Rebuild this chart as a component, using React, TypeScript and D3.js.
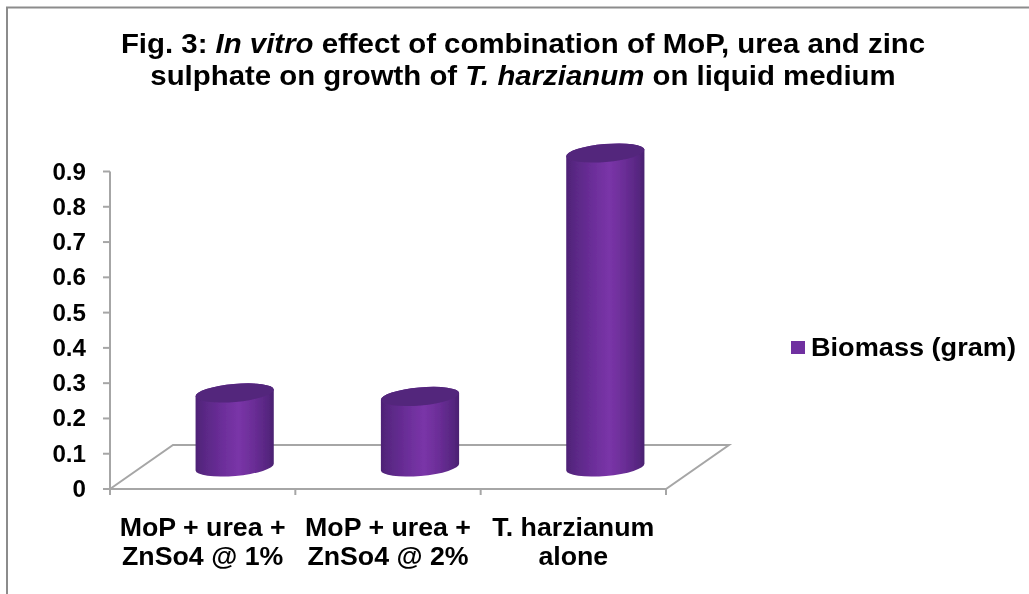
import React from "react";
import * as d3 from "d3";

const categories = [["MoP + urea +", "ZnSo4 @ 1%"], ["MoP + urea +", "ZnSo4 @ 2%"], ["T. harzianum", "alone"]];
const values = [0.21, 0.2, 0.89];
const yTicks = [0, 0.1, 0.2, 0.3, 0.4, 0.5, 0.6, 0.7, 0.8, 0.9];
const seriesName = "Biomass (gram)";

const W = 1029, H = 594;
const FONT = "'Liberation Sans', Arial, sans-serif";
const GREY = "#a6a6a6";

const y = d3.scaleLinear().domain([0, 0.9]).range([489, 171.5]);
const x = d3.scaleBand<number>().domain([0, 1, 2]).range([110, 666]).padding(0);
const depthX = 63, depthY = 44;
const cylW = 78.5, ry = 9, tilt = -5;

export default function App() {
  const floor = d3.line()([
    [110, y(0)], [110 + depthX, y(0) - depthY], [666 + depthX, y(0) - depthY], [666, y(0)], [110, y(0)],
  ]) as string;
  return (
    <svg width={W} height={H} style={{ position: "absolute", left: 0, top: 0, background: "#fff" }}>
      <defs>
        <linearGradient id="cyl" x1="0" x2="1" y1="0" y2="0">
          <stop offset="0" stopColor="#4e2276" />
          <stop offset="0.12" stopColor="#5a2885" />
          <stop offset="0.35" stopColor="#6c2e9a" />
          <stop offset="0.55" stopColor="#7a35a8" />
          <stop offset="0.75" stopColor="#6a2d96" />
          <stop offset="0.93" stopColor="#55267f" />
          <stop offset="1" stopColor="#4a2070" />
        </linearGradient>
        <filter id="soft" x="-5%" y="-5%" width="110%" height="110%">
          <feGaussianBlur stdDeviation="0.45" />
        </filter>
      </defs>
      <path d={`M7,594V7.5H1029`} fill="none" stroke="#8c8c8c" strokeWidth={2} />

      <g filter="url(#soft)">
        <text transform="translate(523,53) scale(1.05,1)" fontFamily={FONT} fontWeight="bold" fontSize={28} textAnchor="middle" fill="#000">
          Fig. 3: <tspan fontStyle="italic">In vitro</tspan> effect of combination of MoP, urea and zinc
        </text>
        <text transform="translate(523,85) scale(1.05,1)" fontFamily={FONT} fontWeight="bold" fontSize={28} textAnchor="middle" fill="#000">
          sulphate on growth of <tspan fontStyle="italic">T. harzianum</tspan> on liquid medium
        </text>
      </g>

      <path d={floor} fill="none" stroke={GREY} strokeWidth={2} />
      <line x1={110} x2={110} y1={y(0.9)} y2={y(0) + 6} stroke={GREY} strokeWidth={2} />
      {yTicks.map((t) => (
        <g key={t}>
          <line x1={103} x2={110} y1={y(t)} y2={y(t)} stroke={GREY} strokeWidth={2} />
          <text transform={`translate(86,${y(t) + 8}) scale(1.05,1)`} textAnchor="end" fontFamily={FONT} fontWeight="bold" fontSize={23} filter="url(#soft)">{t}</text>
        </g>
      ))}
      {[0, 1, 2, 3].map((i) => {
        const px = i < 3 ? (x(i) as number) : 666;
        return <line key={i} x1={px} x2={px} y1={y(0)} y2={y(0) + 6} stroke={GREY} strokeWidth={2} />;
      })}

      {values.map((v, i) => {
        const cx = (x(i) as number) + x.bandwidth() / 2 + 32;
        const base = y(0) - 22;
        const topY = y(v) - 22;
        const rx = cylW / 2;
        const a = (tilt * Math.PI) / 180;
        const dx = rx * Math.cos(a), dy = rx * Math.sin(a);
        const body = `M${cx - dx},${topY - dy} L${cx - dx},${base - dy} A${rx},${ry} ${tilt} 0 0 ${cx + dx},${base + dy} L${cx + dx},${topY + dy} A${rx},${ry} ${tilt} 0 0 ${cx - dx},${topY - dy} Z`;
        return (
          <g key={i} filter="url(#soft)">
            <path d={body} fill="url(#cyl)" />
            <ellipse cx={cx} cy={topY} rx={rx} ry={ry} transform={`rotate(${tilt} ${cx} ${topY})`} fill="#53267c" />
          </g>
        );
      })}

      {categories.map((lines, i) => (
        <g key={i} filter="url(#soft)">
          {lines.map((l, j) => (
            <text key={j} transform={`translate(${(x(i) as number) + x.bandwidth() / 2},${536 + j * 29}) scale(1.07,1)`} textAnchor="middle" fontFamily={FONT} fontWeight="bold" fontSize={25}>{l}</text>
          ))}
        </g>
      ))}

      <rect x={791} y={341} width={14} height={13} fill="#7030a0" />
      <text transform="translate(811,356) scale(1.085,1)" fontFamily={FONT} fontWeight="bold" fontSize={25} filter="url(#soft)">{seriesName}</text>
    </svg>
  );
}
